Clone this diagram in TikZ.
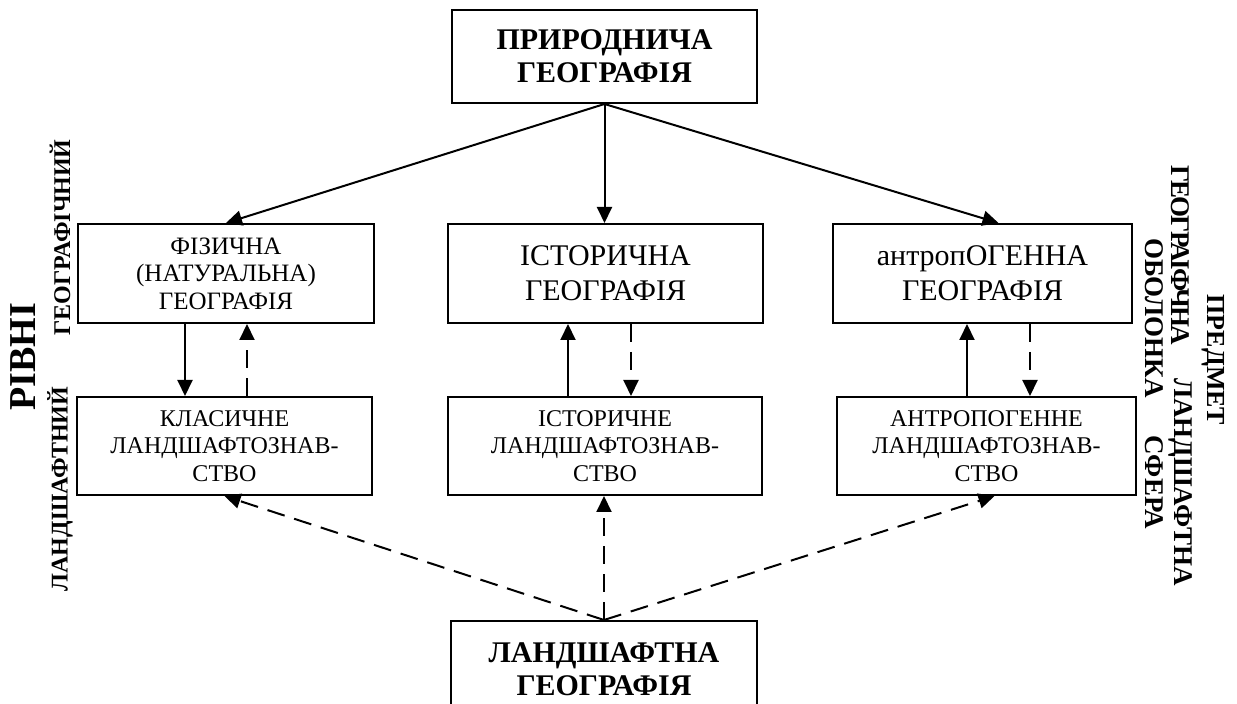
\documentclass[tikz,border=0pt]{standalone}
\usepackage{fontspec}
\setmainfont{Liberation Serif}
\usetikzlibrary{arrows.meta}
\begin{document}
\begin{tikzpicture}[x=0.5pt,y=-0.5pt,
  box/.style={draw, line width=1pt, align=center, inner sep=0pt, anchor=center},
  bigtxt/.style={font=\bfseries\fontsize{15}{16.5}\selectfont},
  midtxt/.style={font=\fontsize{15}{17.5}\selectfont},
  smalltxt/.style={font=\fontsize{12.5}{13.75}\selectfont},
  lowtxt/.style={font=\fontsize{12}{13.9}\selectfont},
  sidetxt/.style={inner sep=0pt, font=\bfseries\fontsize{12}{14}\selectfont},
  righttxt/.style={inner sep=0pt, font=\bfseries\fontsize{13.5}{15}\selectfont},
  arr/.style={line width=1pt, -{Triangle[length=8pt,width=7.5pt]}},
  darr/.style={arr, dash pattern=on 9pt off 5pt}]
\useasboundingbox (0,0) rectangle (1237,704);
% top and bottom
\node[box, bigtxt, minimum width=152.5pt, minimum height=46.5pt] (top) at (604.5,56.5) {ПРИРОДНИЧА\\ГЕОГРАФІЯ};
\node[box, bigtxt, minimum width=153pt, minimum height=70pt] (bot) at (604,691) {ЛАНДШАФТНА\\ГЕОГРАФІЯ\\\strut};
% upper row
\node[box, smalltxt, minimum width=148pt, minimum height=49.5pt] (L1) at (226,273.5) {ФІЗИЧНА\\(НАТУРАЛЬНА)\\ГЕОГРАФІЯ};
\node[box, midtxt, minimum width=157.5pt, minimum height=49.5pt] (C1) at (605.5,273.5) {ІСТОРИЧНА\\ГЕОГРАФІЯ};
\node[box, midtxt, minimum width=149.5pt, minimum height=49.5pt] (R1) at (982.5,273.5) {антропОГЕННА\\ГЕОГРАФІЯ};
% lower row
\node[box, lowtxt, minimum width=147.5pt, minimum height=49pt] (L2) at (224.5,446) {КЛАСИЧНЕ\\ЛАНДШАФТОЗНАВ-\\СТВО};
\node[box, lowtxt, minimum width=157pt, minimum height=49pt] (C2) at (605,446) {ІСТОРИЧНЕ\\ЛАНДШАФТОЗНАВ-\\СТВО};
\node[box, lowtxt, minimum width=149.5pt, minimum height=49pt] (R2) at (986.5,446) {АНТРОПОГЕННЕ\\ЛАНДШАФТОЗНАВ-\\СТВО};
% side texts
\node[rotate=90, inner sep=0pt, font=\bfseries\fontsize{19}{22}\selectfont] (rivni) at (23.5,357) {РІВНІ};
\node[rotate=90, sidetxt] (geoL) at (60,237.5) {ГЕОГРАФІЧНИЙ};
\node[rotate=90, sidetxt] (landL) at (60,489) {ЛАНДШАФТНИЙ};
\node[rotate=-90, inner sep=0pt, font=\bfseries\fontsize{13}{15}\selectfont] (predmet) at (1213,360) {ПРЕДМЕТ};
\node[rotate=-90, righttxt] (geoR) at (1180.5,255) {\addfontfeature{LetterSpace=-7}ГЕОГРАІФЧНА};
\node[rotate=-90, righttxt] (landR) at (1180.5,482) {ЛАНДШАФТНА};
\node[rotate=-90, righttxt] (obol) at (1154.5,318) {ОБОЛОНКА};
\node[rotate=-90, righttxt] (sfera) at (1154.5,482) {СФЕРА};
% arrows from top
\draw[arr] (top.south) -- (L1.north);
\draw[arr] (top.south) -- (top.south |- C1.north);
\draw[arr] (top.south) -- ([xshift=8pt]R1.north);
% vertical pairs
\draw[arr] ([xshift=-20.5pt]L1.south) -- ([xshift=-20.5pt]L1.south |- L2.north);
\draw[darr] ([xshift=10.5pt]L1.south |- L2.north) -- ([xshift=10.5pt]L1.south);
\draw[arr] ([xshift=-18.75pt]C1.south |- C2.north) -- ([xshift=-18.75pt]C1.south);
\draw[darr] ([xshift=12.75pt]C1.south) -- ([xshift=12.75pt]C1.south |- C2.north);
\draw[arr] ([xshift=-7.75pt]R1.south |- R2.north) -- ([xshift=-7.75pt]R1.south);
\draw[darr] ([xshift=23.75pt]R1.south) -- ([xshift=23.75pt]R1.south |- R2.north);
% arrows from bottom
\draw[darr] (bot.north) -- (L2.south);
\draw[darr] (bot.north) -- (bot.north |- C2.south);
\draw[darr] (bot.north) -- ([xshift=4pt]R2.south);
\end{tikzpicture}
\end{document}
